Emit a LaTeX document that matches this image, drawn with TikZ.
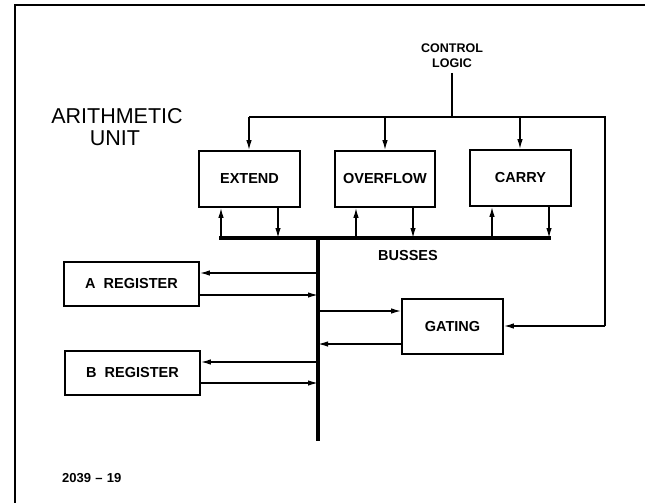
\documentclass[tikz,border=0pt]{standalone}
\usepackage{fontspec}
\setmainfont{Liberation Sans}
\usetikzlibrary{arrows.meta}
\begin{document}
\begin{tikzpicture}[x=1pt,y=-1pt,
  box/.style={draw, line width=1.7pt, inner sep=0pt, font=\fontsize{14.5}{16}\selectfont\bfseries},
  ln/.style={line width=1.4pt},
  arr/.style={ln, -{Latex[length=10pt,width=5.5pt]}},
  busline/.style={line width=3.2pt},
  small/.style={inner sep=0pt, outer sep=0pt, font=\fontsize{14.5}{16}\selectfont\bfseries},
  frameline/.style={line width=2.4pt}]
\useasboundingbox (0,0) rectangle (645,503);
\fill[white] (0,0) rectangle (645,503);
% frame
\draw[frameline] (15,503) -- (15,5) -- (645,5);
% titles
\node[anchor=base, inner sep=0pt, font=\fontsize{21.5}{22}\selectfont] (t1) at (117,123) {ARITHMETIC};
\node[anchor=base, inner sep=0pt, font=\fontsize{21.5}{22}\selectfont] (t2) at (115,145) {UNIT};
\node[anchor=south, inner sep=0pt, outer sep=0pt, align=center, font=\fontsize{12.5}{15}\selectfont\bfseries] (ctl) at (452,68) {CONTROL\\LOGIC};
\node[anchor=base, small] (bus) at (408,260) {BUSSES};
\node[anchor=base west, inner sep=0pt, font=\fontsize{13}{14}\selectfont\bfseries] (fig) at (62,482) {2039\,\,–\,\,19};
% boxes
\node[box, minimum width=101pt, minimum height=56pt] (extend) at (249.5,179) {EXTEND};
\node[box, minimum width=100pt, minimum height=56pt] (overflow) at (385,179) {OVERFLOW};
\node[box, minimum width=101pt, minimum height=56pt] (carry) at (520.5,178) {\raisebox{2pt}{CARRY}};
\node[box, minimum width=135pt, minimum height=44pt] (areg) at (131.5,284) {A\ \ REGISTER};
\node[box, minimum width=135pt, minimum height=44pt] (breg) at (132.5,373) {B\ \ REGISTER};
\node[box, minimum width=101pt, minimum height=55pt] (gating) at (452.5,326.5) {GATING};
% control logic distribution
\coordinate (cj) at (452,117);
\coordinate (cl) at (249,117);
\coordinate (co) at (385,117);
\coordinate (cc) at (520,117);
\coordinate (cr) at (605,117);
\coordinate (cg) at (605,326);
\draw[ln, shorten <=5pt] (ctl.south) -- (cj);
\draw[ln] (cl) -- (cr) -- (cg);
\draw[arr] (cl) -- (cl |- extend.north);
\draw[arr] (co) -- (co |- overflow.north);
\draw[arr] (cc) -- (cc |- carry.north);
\draw[arr] (cg) -- (cg -| gating.east);
% busses
\coordinate (bl) at (221,238);
\coordinate (br) at (549,238);
\coordinate (bv) at (318,238);
\coordinate (bvend) at (318,441);
\draw[busline, line cap=rect] (bl) -- (br);
\draw[busline] (bv) -- (bvend);
\coordinate (e1) at (221,238);
\coordinate (e2) at (278,238);
\coordinate (o1) at (356,238);
\coordinate (o2) at (413,238);
\coordinate (k1) at (492,238);
\coordinate (k2) at (549,238);
\draw[arr] (e1) -- (e1 |- extend.south);
\draw[arr] (e2 |- extend.south) -- (e2);
\draw[arr] (o1) -- (o1 |- overflow.south);
\draw[arr] (o2 |- overflow.south) -- (o2);
\draw[arr] (k1) -- (k1 |- carry.south);
\draw[arr] (k2 |- carry.south) -- (k2);
% registers and gating
\coordinate (a1) at (318,273);
\coordinate (a2) at (318,295);
\coordinate (g1) at (318,311);
\coordinate (g2) at (318,344);
\coordinate (r1) at (318,362);
\coordinate (r2) at (318,383);
\draw[arr] (a1) -- (a1 -| areg.east);
\draw[arr] (a2 -| areg.east) -- (a2);
\draw[arr] (g1) -- (g1 -| gating.west);
\draw[arr] (g2 -| gating.west) -- (g2);
\draw[arr] (r1) -- (r1 -| breg.east);
\draw[arr] (r2 -| breg.east) -- (r2);
\end{tikzpicture}
\end{document}
